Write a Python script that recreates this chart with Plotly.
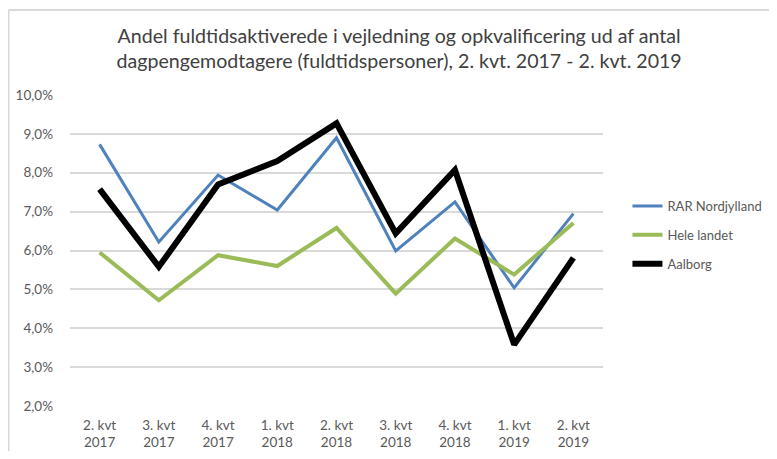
import plotly.graph_objects as go

categories = ["2. kvt<br>2017", "3. kvt<br>2017", "4. kvt<br>2017", "1. kvt<br>2018", "2. kvt<br>2018",
              "3. kvt<br>2018", "4. kvt<br>2018", "1. kvt<br>2019", "2. kvt<br>2019"]
rar_nordjylland = [8.73, 6.22, 7.94, 7.04, 8.90, 5.99, 7.25, 5.04, 6.95]
hele_landet = [5.95, 4.72, 5.88, 5.60, 6.58, 4.89, 6.31, 5.38, 6.71]
aalborg = [7.58, 5.58, 7.70, 8.30, 9.27, 6.44, 8.07, 3.58, 5.81]
y_ticks = [2, 3, 4, 5, 6, 7, 8, 9, 10]
y_tick_labels = [f"{v},0%" for v in y_ticks]

font_family = "Lato, 'Open Sans', sans-serif"

fig = go.Figure()
fig.add_trace(go.Scatter(x=categories, y=rar_nordjylland, mode="lines", name="RAR Nordjylland",
                         line=dict(color="#4f81bd", width=3), legendgroup="a"))
fig.add_trace(go.Scatter(x=categories, y=hele_landet, mode="lines", name="Hele landet",
                         line=dict(color="#9bbb59", width=4), legendgroup="b"))
fig.add_trace(go.Scatter(x=categories, y=aalborg, mode="lines", name="Aalborg",
                         line=dict(color="#000000", width=6), legendgroup="c"))

fig.update_layout(
    width=761, height=443,
    margin=dict(l=62, r=166, t=87, b=45.4),
    paper_bgcolor="white", plot_bgcolor="white",
    font=dict(family=font_family, color="#595959", size=13),
    title=dict(text="Andel fuldtidsaktiverede i vejledning og opkvalificering ud af antal<br>dagpengemodtagere (fuldtidspersoner), 2. kvt. 2017 - 2. kvt. 2019",
               x=0.514, xanchor="center", y=0.921, yanchor="middle",
               font=dict(size=19.6, color="#404040", family=font_family)),
    showlegend=True,
    legend=dict(xref="container", yref="container", x=0.814, y=0.4876,
                xanchor="left", yanchor="middle",
                font=dict(size=13, color="#595959"), tracegroupgap=9,
                traceorder="grouped", bgcolor="rgba(0,0,0,0)"),
    xaxis=dict(range=[-0.5, 8.5], showgrid=False, showline=False, ticks="", automargin=False,
               ticklabelstandoff=9, tickfont=dict(size=13.5, color="#595959")),
    yaxis=dict(range=[2, 10], tickvals=y_ticks, ticktext=y_tick_labels, automargin=False,
               showgrid=True, gridcolor="#d9d9d9", gridwidth=1.5, zeroline=False,
               showline=False, ticks="", ticklabelstandoff=16,
               tickfont=dict(size=13.5, color="#595959")),
    shapes=[
        dict(type="line", xref="paper", yref="paper", x0=-0.1154, x1=1.4, y0=1.2737, y1=1.2737,
             line=dict(color="#d9d9d9", width=2)),
        dict(type="line", xref="paper", yref="paper", x0=-0.1154, x1=-0.1154, y0=1.2737, y1=-0.2,
             line=dict(color="#d9d9d9", width=2)),
    ],
)

fig.write_html("out.html", config={"displayModeBar": False})
